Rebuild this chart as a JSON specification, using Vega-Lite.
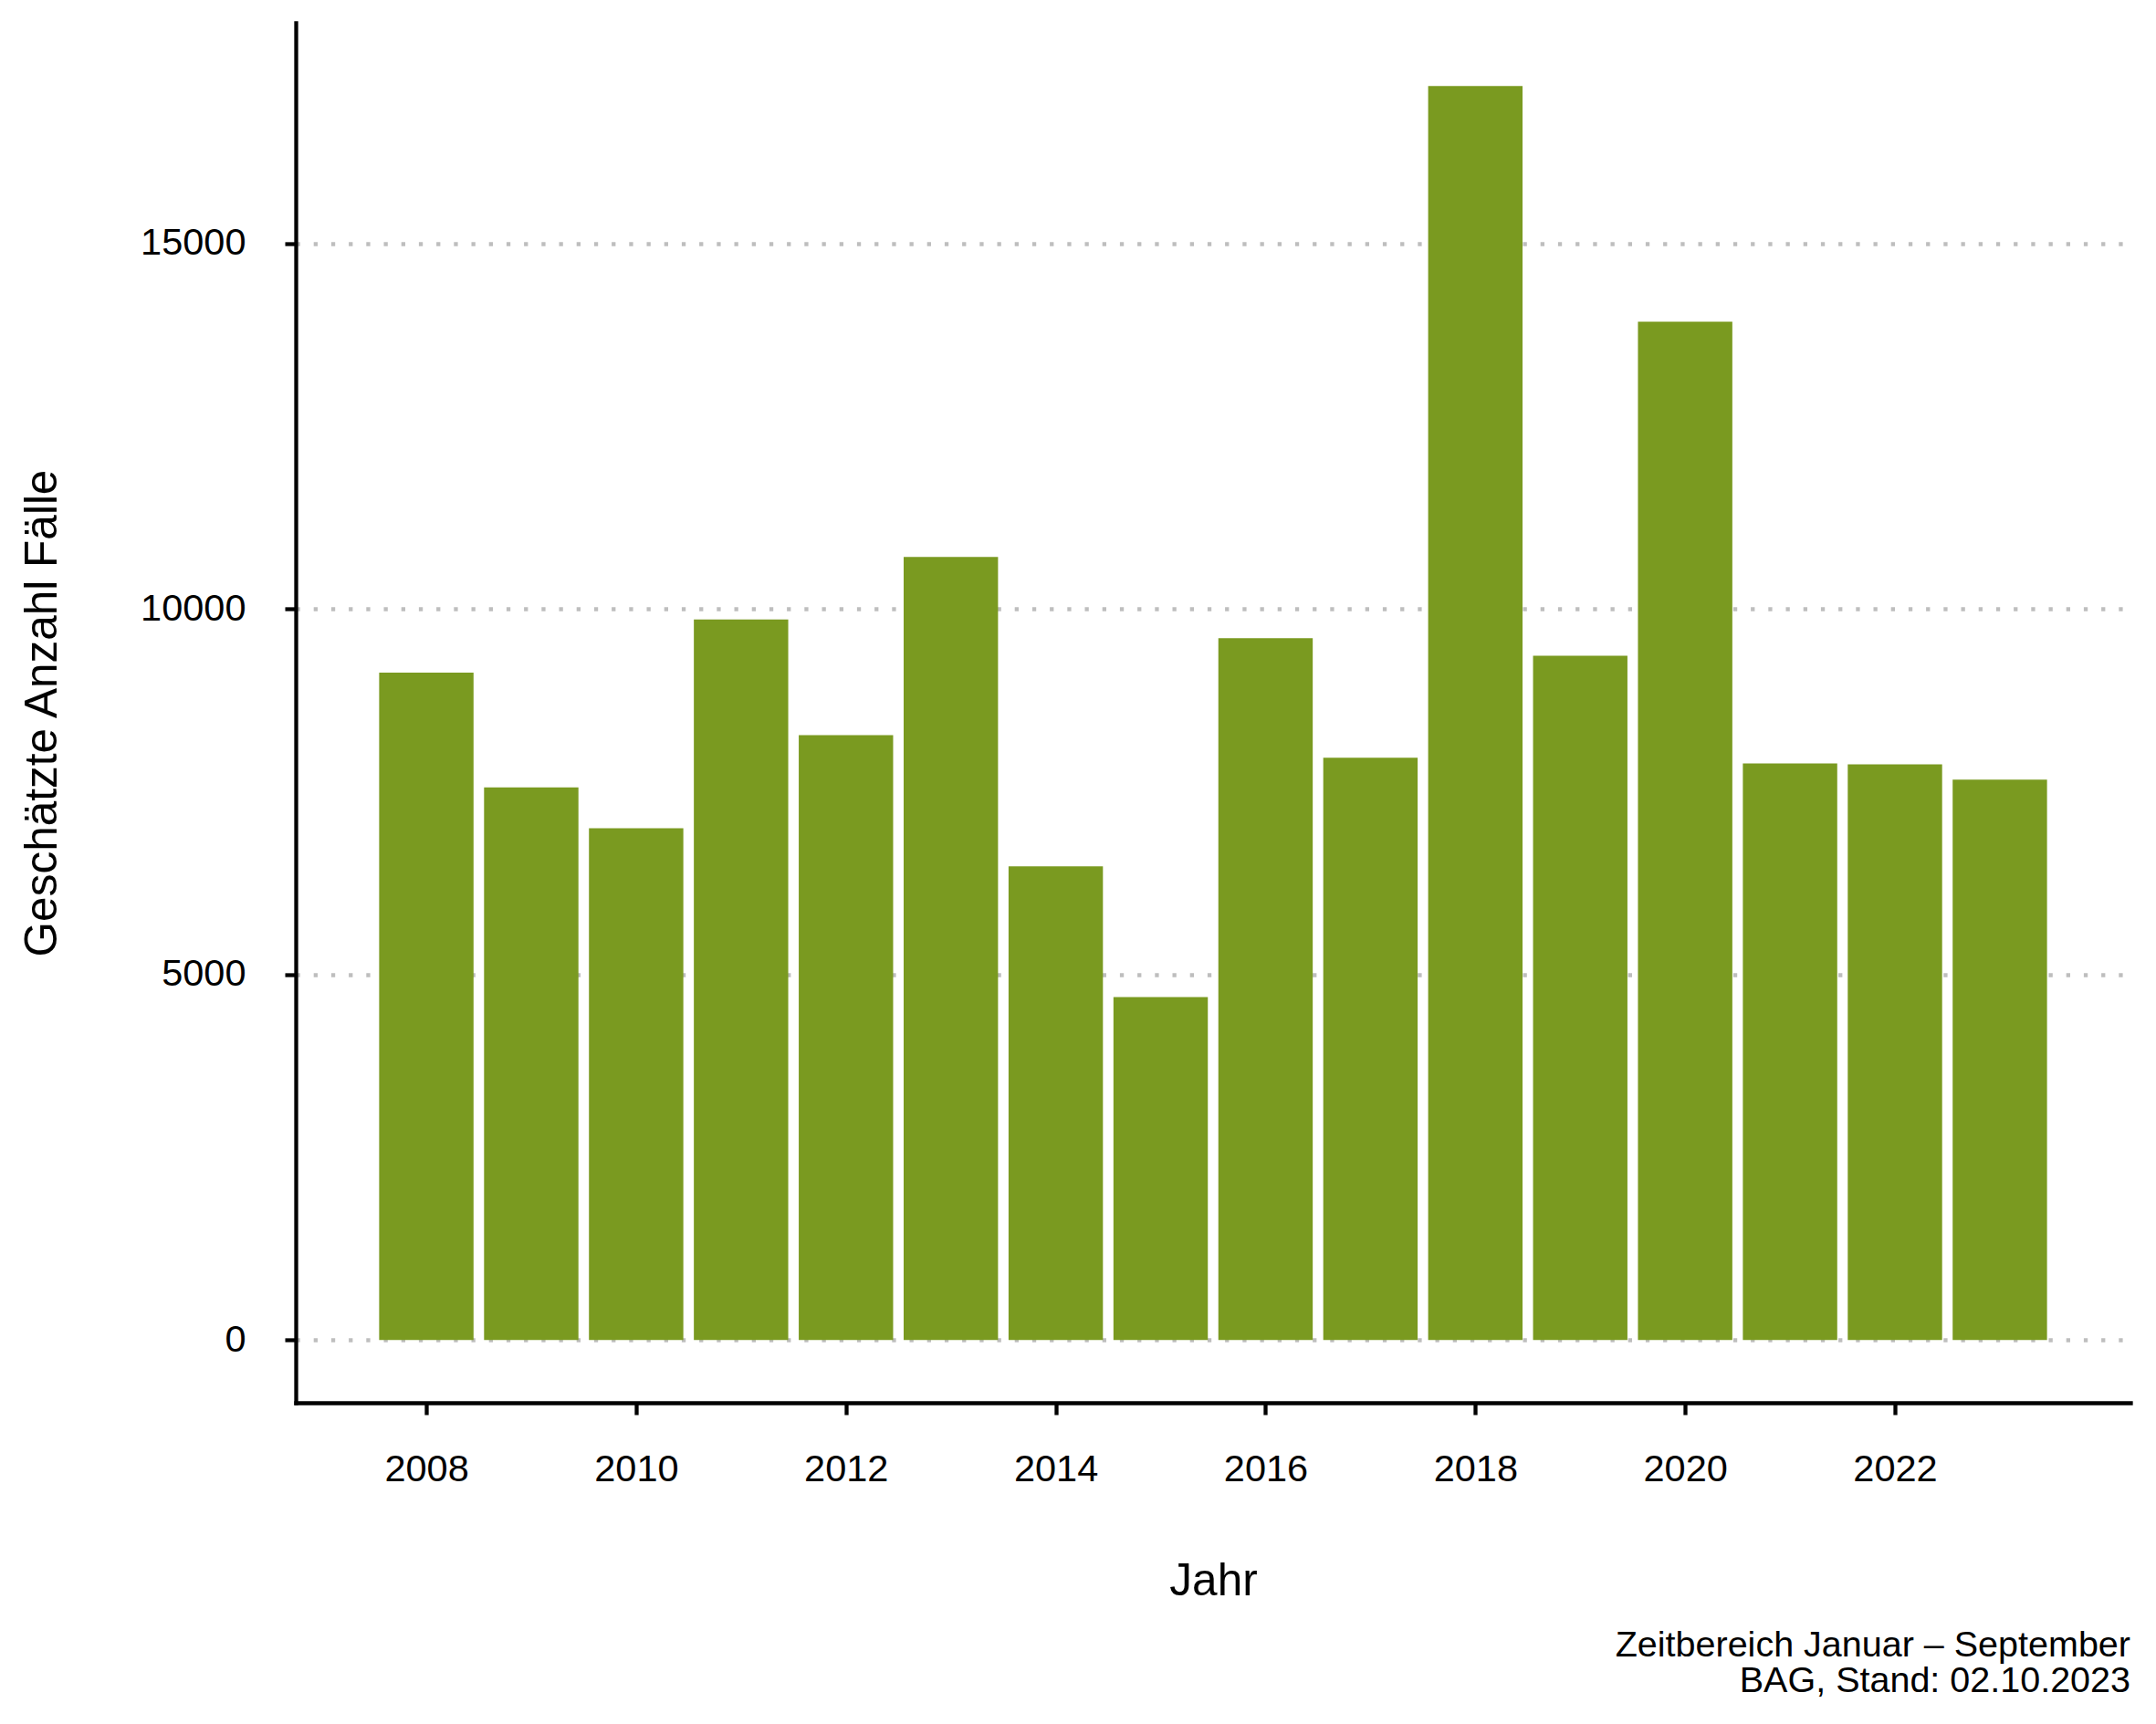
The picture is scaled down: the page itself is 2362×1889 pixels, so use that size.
{
  "$schema": "https://vega.github.io/schema/vega-lite/v6.json",
  "autosize": "none",
  "width": 2010,
  "height": 1512,
  "padding": {"left": 324, "top": 25, "right": 28, "bottom": 352},
  "background": "white",
  "config": {
    "view": {"stroke": null},
    "font": "Liberation Sans",
    "axis": {
      "labelFont": "Liberation Sans",
      "titleFont": "Liberation Sans",
      "labelFontSize": 41.5,
      "titleFontSize": 49.5,
      "labelColor": "#000000",
      "titleColor": "#000000",
      "titleFontWeight": "normal",
      "domainColor": "#000000",
      "domainWidth": 4.3,
      "domainCap": "square",
      "tickColor": "#000000",
      "tickWidth": 4.3,
      "tickSize": 12
    }
  },
  "title": {
    "text": ["Zeitbereich Januar – September", "BAG, Stand: 02.10.2023"],
    "orient": "bottom",
    "anchor": "end",
    "frame": "group",
    "font": "Liberation Sans",
    "fontSize": 39.5,
    "fontWeight": "normal",
    "color": "#000000",
    "lineHeight": 39.5,
    "offset": 27
  },
  "data": {
    "values": [
      {"Jahr": 2008, "Faelle": 9129},
      {"Jahr": 2009, "Faelle": 7558},
      {"Jahr": 2010, "Faelle": 7000},
      {"Jahr": 2011, "Faelle": 9858},
      {"Jahr": 2012, "Faelle": 8275},
      {"Jahr": 2013, "Faelle": 10712},
      {"Jahr": 2014, "Faelle": 6481},
      {"Jahr": 2015, "Faelle": 4691},
      {"Jahr": 2016, "Faelle": 9600},
      {"Jahr": 2017, "Faelle": 7966},
      {"Jahr": 2018, "Faelle": 17155},
      {"Jahr": 2019, "Faelle": 9361},
      {"Jahr": 2020, "Faelle": 13931},
      {"Jahr": 2021, "Faelle": 7888},
      {"Jahr": 2022, "Faelle": 7875},
      {"Jahr": 2023, "Faelle": 7666}
    ]
  },
  "mark": {"type": "bar", "width": 103.4, "color": "#7A9A20"},
  "encoding": {
    "x": {
      "field": "Jahr",
      "type": "quantitative",
      "scale": {"domain": [2006.755, 2024.245], "nice": false, "zero": false, "padding": 0},
      "axis": {
        "title": "Jahr",
        "values": [2008, 2010, 2012, 2014, 2016, 2018, 2020, 2022],
        "format": "d",
        "grid": false,
        "labelPadding": 39,
        "tickSize": 13,
        "titleY": 210,
        "titleBaseline": "alphabetic"
      }
    },
    "y": {
      "field": "Faelle",
      "type": "quantitative",
      "scale": {"domain": [-858, 18018], "nice": false, "zero": false, "padding": 0},
      "axis": {
        "title": "Geschätzte Anzahl Fälle",
        "values": [0, 5000, 10000, 15000],
        "format": "d",
        "grid": true,
        "gridColor": "#BEBEBE",
        "gridWidth": 4.3,
        "gridDash": [4.3, 14.9],
        "labelPadding": 43,
        "tickSize": 12,
        "titleX": -263,
        "titleBaseline": "alphabetic",
        "titleAngle": 270
      }
    }
  }
}
